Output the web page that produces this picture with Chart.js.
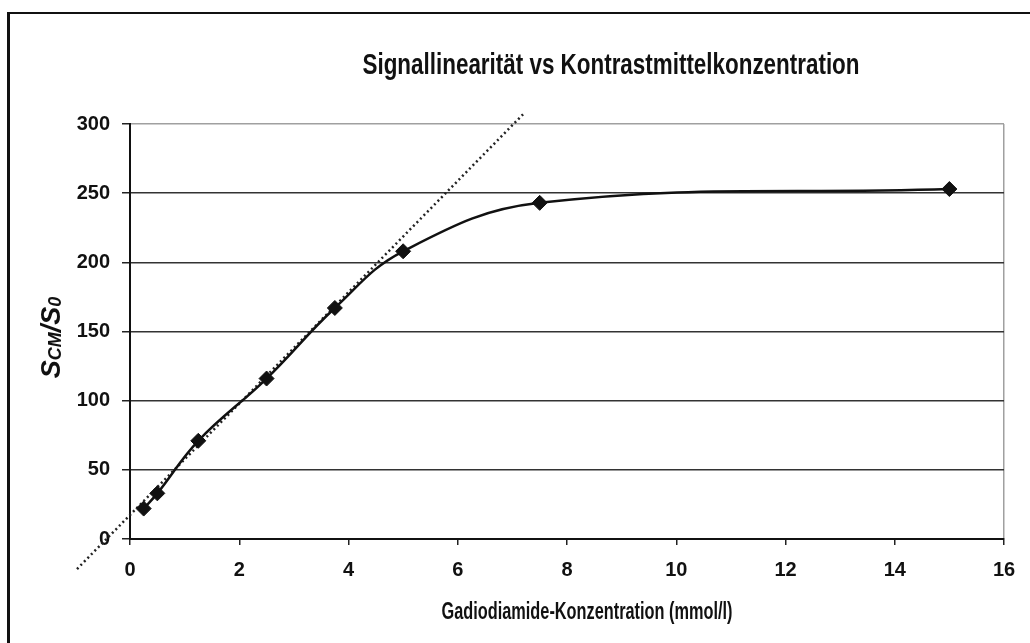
<!DOCTYPE html>
<html>
<head>
<meta charset="utf-8">
<script src="https://cdn.jsdelivr.net/npm/chart.js@4.4.0/dist/chart.umd.min.js"></script>
<style>
  html, body { margin: 0; padding: 0; background: #fff; }
  #wrap { position: relative; width: 1030px; height: 643px; overflow: hidden; }
  #frame { position: absolute; left: 7px; top: 12px; width: 1040px; height: 650px;
           border-top: 2px solid #111; border-left: 3px solid #111; }
  canvas { position: absolute; left: 0; top: 0; }
</style>
</head>
<body>
<div id="wrap">
  <div id="frame"></div>
  <canvas id="signalChart" width="1030" height="643"></canvas>
</div>
<script>
// measured points (Gadodiamide concentration in mmol/l vs S_CM/S_0)
const concentration = [0.25, 0.5, 1.25, 2.5, 3.75, 5, 7.5, 15];
const signalRatio = [22, 33, 71, 116, 167, 208, 243, 253];

// dotted linear trend, end points
const trendX = [-0.97, 7.22];
const trendY = [-21.7, 308];

const xTickStep = 2;
const yTickStep = 50;

const titleText = 'Signallinearität vs Kontrastmittelkonzentration';
const xTitleText = 'Gadiodiamide-Konzentration (mmol/l)';

const FONT = '"Liberation Sans", Arial, sans-serif';

// draw text squeezed horizontally to a given width (the original uses a narrow face)
function fitText(ctx, text, x, y, targetW) {
    const w = ctx.measureText(text).width;
    ctx.save();
    ctx.translate(x, y);
    ctx.scale(targetW / w, 1);
    ctx.textAlign = 'center';
    ctx.fillText(text, 0, 0);
    ctx.restore();
}

const textLabels = {
    id: 'textLabels',
    afterDraw(chart) {
        const ctx = chart.ctx;
        const area = chart.chartArea;
        ctx.save();
        ctx.fillStyle = '#111';
        ctx.textBaseline = 'alphabetic';

        // title
        ctx.font = 'bold 29px ' + FONT;
        fitText(ctx, titleText, 611, 74, 497);

        // x axis title
        ctx.font = 'bold 23px ' + FONT;
        fitText(ctx, xTitleText, (area.left + area.right) / 2 + 20, 619, 291);

        // y axis title: S_CM / S_0, rotated
        const pieces = [
            { t: 'S', size: 27, dy: 0 },
            { t: 'CM', size: 18, dy: 1 },
            { t: '/S', size: 27, dy: 0 },
            { t: '0', size: 18, dy: 1 }
        ];
        let total = 0;
        pieces.forEach(p => {
            ctx.font = 'italic bold ' + p.size + 'px ' + FONT;
            p.w = ctx.measureText(p.t).width;
            total += p.w;
        });
        const cy = (area.top + area.bottom) / 2 + 6;
        ctx.translate(60, cy + total / 2);
        ctx.rotate(-Math.PI / 2);
        let x = 0;
        ctx.textAlign = 'left';
        pieces.forEach(p => {
            ctx.font = 'italic bold ' + p.size + 'px ' + FONT;
            ctx.fillText(p.t, x, p.dy);
            x += p.w;
        });
        ctx.restore();
    }
};

const chart = new Chart(document.getElementById('signalChart'), {
    type: 'line',
    data: {
        datasets: [
            {
                label: 'SCM/S0',
                data: concentration.map((c, i) => ({ x: c, y: signalRatio[i] })),
                borderColor: '#111',
                backgroundColor: '#111',
                borderWidth: 2.5,
                tension: 0.4,
                pointStyle: 'rectRot',
                pointRadius: 7.5,
                pointBorderWidth: 1,
                fill: false,
                order: 0
            },
            {
                label: 'Linear',
                data: trendX.map((c, i) => ({ x: c, y: trendY[i] })),
                borderColor: '#222',
                borderWidth: 2.5,
                borderDash: [2, 3],
                pointRadius: 0,
                tension: 0,
                fill: false,
                clip: false,
                order: 1
            }
        ]
    },
    options: {
        responsive: false,
        animation: false,
        layout: { padding: { left: 70, top: 124, right: 26, bottom: 54 } },
        plugins: {
            legend: { display: false },
            tooltip: { enabled: false },
            title: { display: false }
        },
        scales: {
            x: {
                type: 'linear',
                min: 0,
                max: 16,
                ticks: {
                    stepSize: xTickStep,
                    color: '#111',
                    padding: 13,
                    font: { family: FONT, size: 20, weight: 'bold' }
                },
                grid: {
                    color: ctx => (ctx.tick && ctx.tick.value === 16) ? '#a0a0a0' : 'rgba(0,0,0,0)',
                    lineWidth: 1.5,
                    tickColor: '#222',
                    tickLength: 6
                },
                border: { color: '#111', width: 2 },
                afterFit: s => { s.height = 50; }
            },
            y: {
                min: 0,
                max: 300,
                ticks: {
                    stepSize: yTickStep,
                    color: '#111',
                    padding: 12,
                    font: { family: FONT, size: 20, weight: 'bold' }
                },
                grid: {
                    color: ctx => (ctx.tick && ctx.tick.value === 300) ? '#a0a0a0' : '#333',
                    lineWidth: 1.5,
                    tickColor: '#222',
                    tickLength: 8
                },
                border: { color: '#111', width: 2 },
                afterFit: s => { s.width = 60; }
            }
        }
    },
    plugins: [textLabels]
});
</script>
</body>
</html>
